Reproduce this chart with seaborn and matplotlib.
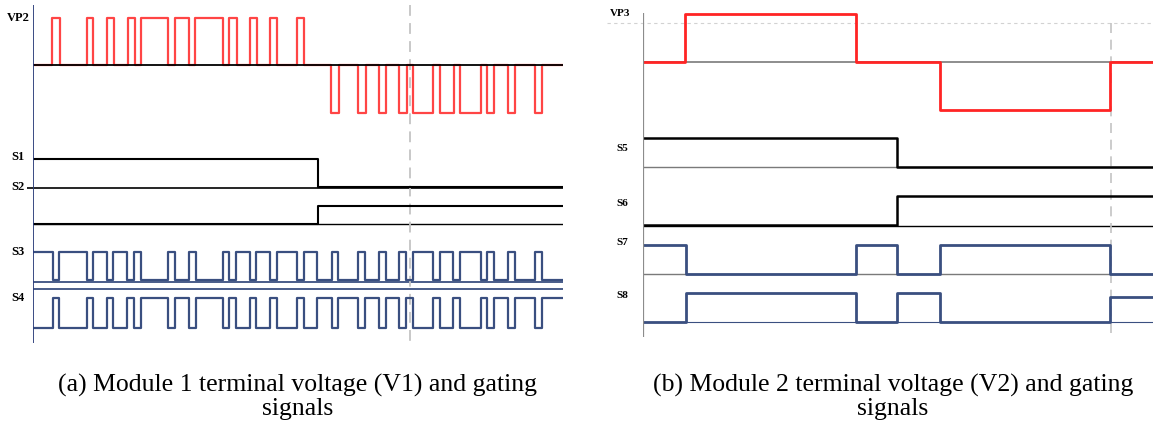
import matplotlib
matplotlib.use("Agg")
import matplotlib.pyplot as plt
import pandas as pd
import seaborn as sns

# ---- data (time in sample units from the left axis, levels normalised) ----

# module 1 (panel a)
t1_end = 530
t1_marker = 377
vp2_pos_pulses = [(19, 27), (54, 60), (74, 81), (95, 102), (108, 135), (142, 156),
                  (162, 190), (196, 204), (217, 224), (237, 244), (264, 271)]
vp2_neg_pulses = [(298, 306), (325, 333), (346, 353), (366, 374), (380, 400),
                  (407, 421), (427, 448), (454, 461), (475, 482), (502, 509)]
s1_edges, s1_levels = [285], [1, 0]
s2_edges, s2_levels = [285], [0, 1]
s3_edges = [20, 26, 54, 60, 74, 80, 94, 101, 108, 135, 142, 156, 163, 190, 196, 203,
            217, 223, 237, 244, 264, 271, 284, 299, 305, 325, 332, 346, 353, 366,
            373, 380, 400, 407, 420, 427, 448, 454, 461, 475, 482, 502, 509]
s3_first = 1
s4_edges = s3_edges      # S4 is the complement of S3
s4_first = 0

# module 2 (panel b)
t2_end = 510
t2_marker = 468
vp3_edges, vp3_levels = [42, 213, 297, 467], [0, 1, 0, -1, 0]
s5_edges, s5_levels = [254], [1, 0]
s6_edges, s6_levels = [254], [0, 1]
s7_edges, s7_levels = [43, 213, 254, 297, 467], [1, 0, 1, 0, 1, 0]
s8_edges, s8_levels = [43, 213, 254, 297, 467], [0, 1, 0, 1, 0, 0.85]

captions = ["(a) Module 1 terminal voltage (V1) and gating\nsignals",
            "(b) Module 2 terminal voltage (V2) and gating\nsignals"]

W, H = 1153, 434
RED = "#ff2424"
NAVY = "#3a4f80"
GREY = "#7a7a7a"


# ‚îÄ‚îÄ helpers ‚îÄ‚îÄ
def step_df(edges, levels, t_end):
    t = [0] + list(edges) + [t_end]
    y = list(levels) + [levels[-1]]
    return pd.DataFrame({"t": t, "level": y})


def pulses(pos, neg):
    edges, levels = [], [0]
    for sign, plist in ((1, pos), (-1, neg)):
        for s, e in plist:
            edges += [s, e]
            levels += [sign, 0]
    return edges, levels


def toggles(edges, first):
    levels = [first]
    for _ in edges:
        levels.append(1 - levels[-1])
    return levels


def draw(ax, df, base, amp, color, lw, z=3, alpha=1.0):
    d = df.assign(y=base - amp * df["level"])
    sns.lineplot(data=d, x="t", y="y", drawstyle="steps-post", estimator=None,
                 sort=False, color=color, lw=lw, alpha=alpha, ax=ax, zorder=z)


def ftext(x, y, s, **kw):
    fig.text(x / W, 1 - y / H, s, color="black", **kw)


sns.set_theme(style="white")
plt.rcParams["font.family"] = ["Liberation Serif", "DejaVu Serif"]

fig = plt.figure(figsize=(W / 100, H / 100), dpi=100)
axL = fig.add_axes([33 / W, 1 - 350 / H, t1_end / W, 350 / H])
axR = fig.add_axes([643 / W, 1 - 350 / H, t2_end / W, 350 / H])

# ---- panel a ----
e, lv = pulses(vp2_pos_pulses, vp2_neg_pulses)
draw(axL, step_df(e, lv, t1_end), 65, 47.5, RED, 1.6, alpha=0.85)
axL.hlines(65, 0, t1_end, color="black", lw=1.3, zorder=4)
draw(axL, step_df(s1_edges, s1_levels, t1_end), 187, 28, "black", 1.5)
axL.hlines(188, -6, t1_end, color="black", lw=1.2, clip_on=False)
draw(axL, step_df(s2_edges, s2_levels, t1_end), 224, 18, "black", 1.5)
axL.hlines(224, 0, t1_end, color="black", lw=1.0)
draw(axL, step_df(s3_edges, toggles(s3_edges, s3_first), t1_end), 280, 28, NAVY, 1.6)
axL.hlines([282, 289], 0, t1_end, color=NAVY, lw=1.3)
draw(axL, step_df(s4_edges, toggles(s4_edges, s4_first), t1_end), 328, 30, NAVY, 1.6)
axL.vlines(0, 5, 343, color="#2b3d7a", lw=1.3, zorder=5)
axL.vlines(t1_marker, 5, 343, colors="#c4c4c4", linestyles=(0, (6, 4)), lw=1.3)

# ---- panel b ----
axR.hlines(23, -36, t2_end, colors="#d2d2d2", linestyles=(0, (3, 3)), lw=0.8, clip_on=False)
axR.hlines(62, 0, t2_end, color=GREY, lw=1.2)
draw(axR, step_df(vp3_edges, vp3_levels, t2_end), 62, 48, RED, 2.0)
axR.hlines(167, 0, t2_end, color=GREY, lw=1.0)
draw(axR, step_df(s5_edges, s5_levels, t2_end), 167, 29, "black", 1.8)
axR.hlines(226, 0, t2_end, color="black", lw=1.0)
draw(axR, step_df(s6_edges, s6_levels, t2_end), 225, 29, "black", 1.8)
axR.hlines(274, 0, t2_end, color=GREY, lw=1.0)
draw(axR, step_df(s7_edges, s7_levels, t2_end), 274, 29, NAVY, 2.0)
axR.hlines(322, 0, t2_end, color=NAVY, lw=0.8)
draw(axR, step_df(s8_edges, s8_levels, t2_end), 322, 29, NAVY, 2.0)
axR.vlines(0, 13, 337, color="#8c8c8c", lw=1.6, zorder=5)
axR.vlines(t2_marker, 23, 335, colors="#c4c4c4", linestyles=(0, (6, 4)), lw=1.2)

for ax, t_end in ((axL, t1_end), (axR, t2_end)):
    ax.set_xlim(0, t_end)
    ax.set_ylim(350, 0)
    ax.axis("off")

# trace labels
lab = dict(fontsize=9, fontweight="bold", ha="center", va="center")
for name, y in (("VP2", 18), ("S1", 157), ("S2", 187), ("S3", 252), ("S4", 298)):
    ftext(18, y, name, **lab)
lab["fontsize"] = 8
for name, y, x in (("VP3", 14, 620), ("S5", 148, 622), ("S6", 203, 622),
                   ("S7", 243, 622), ("S8", 295, 622)):
    ftext(x, y, name, **lab)

# captions
for cx, txt in ((298, captions[0]), (893, captions[1])):
    ftext(cx, 397, txt, fontsize=18.5, ha="center", va="center", linespacing=1.1)

fig.savefig("out.png", dpi=100)
